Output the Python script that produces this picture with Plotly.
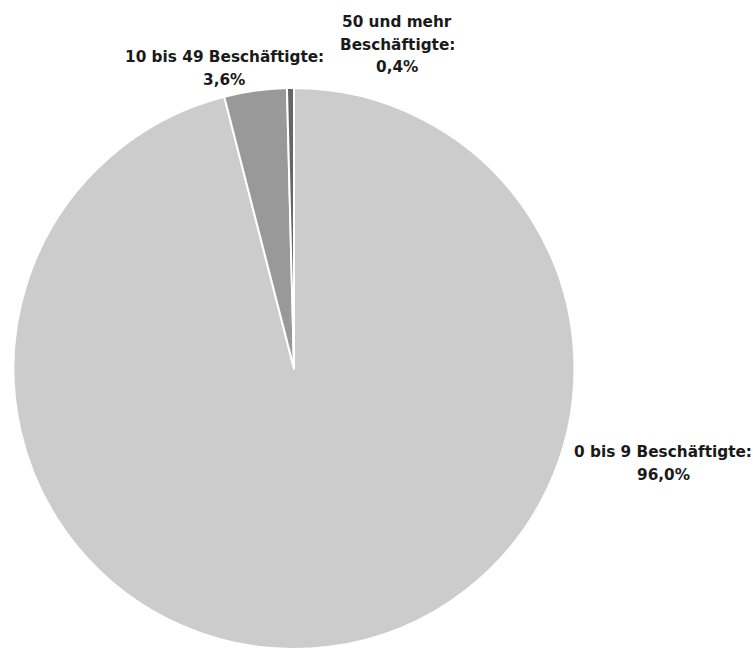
import plotly.graph_objects as go

# Anteil der Betriebe nach Beschäftigtengrößenklassen
categories = ["0 bis 9 Beschäftigte", "10 bis 49 Beschäftigte", "50 und mehr Beschäftigte"]
shares = [96.0, 3.6, 0.4]
slice_colors = ["#cccccc", "#999999", "#666666"]

# Zeilenumbruch der Beschriftungen (Wörter je Zeile)
label_lines = [
    ["0 bis 9 Beschäftigte:"],
    ["10 bis 49 Beschäftigte:"],
    ["50 und mehr", "Beschäftigte:"],
]
# Lage der Beschriftungen in Pixeln (Mitte der ersten Zeile)
label_pos = [(663, 452), (224, 57), (397, 22)]
LINE_STEP = 22.5

W, H = 753, 649
FONT = dict(family="DejaVu Sans", size=15.3, color="#1a1a1a")

# Tortenbereich: Mittelpunkt und Radius in Pixeln
top = 88
radius = 280.5
cx = 294

fig = go.Figure(
    go.Pie(
        labels=categories,
        values=shares,
        sort=False,
        direction="clockwise",
        rotation=0,
        marker=dict(colors=slice_colors, line=dict(color="white", width=2)),
        textinfo="none",
        hoverinfo="label+percent",
        domain=dict(
            x=[(cx - radius) / W, (cx + radius) / W],
            y=[0, 1 - top / H],
        ),
        showlegend=False,
    )
)

annotations = []
for lines, val, (x, y) in zip(label_lines, shares, label_pos):
    texts = lines + [f"{val:.1f}".replace(".", ",") + "%"]
    for i, t in enumerate(texts):
        annotations.append(
            dict(
                text=f"<b>{t}</b>",
                x=x / W,
                y=1 - (y + i * LINE_STEP) / H,
                xref="paper",
                yref="paper",
                xanchor="center",
                yanchor="middle",
                showarrow=False,
                font=FONT,
            )
        )

fig.update_layout(
    width=W,
    height=H,
    margin=dict(l=0, r=0, t=0, b=0),
    paper_bgcolor="white",
    plot_bgcolor="white",
    annotations=annotations,
)

fig.write_html("out.html")
